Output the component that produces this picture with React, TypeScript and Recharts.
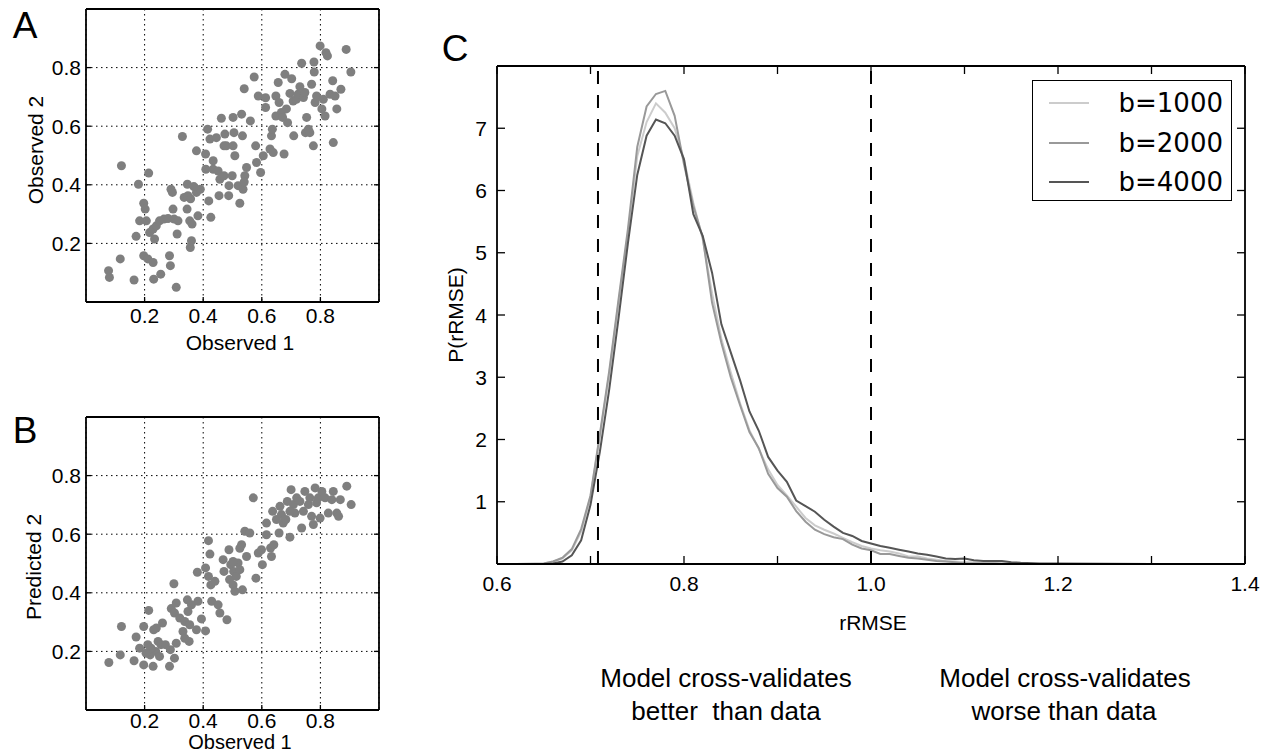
import React from 'react'
import { ScatterChart, Scatter, LineChart, Line, XAxis, YAxis, CartesianGrid, ReferenceLine } from 'recharts'

const SANS = '"Liberation Sans", Arial, Helvetica, sans-serif'
const LEGEND_FONT = '"DejaVu Sans", sans-serif'

// panel A: observed 1 vs observed 2
const OBS1_A = [
  0.077, 0.08, 0.117, 0.121, 0.164, 0.179, 0.171, 0.183, 0.197, 0.202, 0.214, 0.197, 0.211, 0.229, 0.206,
  0.217, 0.229, 0.234, 0.24, 0.251, 0.231, 0.255, 0.266, 0.28, 0.285, 0.288, 0.29, 0.295, 0.297, 0.301,
  0.308, 0.311, 0.314, 0.329, 0.335, 0.345, 0.346, 0.348, 0.354, 0.36, 0.356, 0.362, 0.377, 0.377, 0.382,
  0.39, 0.408, 0.415, 0.419, 0.423, 0.426, 0.409, 0.434, 0.434, 0.451, 0.457, 0.445, 0.471, 0.471, 0.454,
  0.462, 0.474, 0.479, 0.488, 0.499, 0.502, 0.505, 0.508, 0.502, 0.519, 0.525, 0.531, 0.534, 0.536, 0.54,
  0.542, 0.548, 0.561, 0.574, 0.579, 0.582, 0.588, 0.596, 0.605, 0.613, 0.613, 0.628, 0.633, 0.636, 0.639,
  0.648, 0.648, 0.656, 0.659, 0.667, 0.671, 0.676, 0.679, 0.684, 0.688, 0.696, 0.702, 0.707, 0.709, 0.718,
  0.724, 0.736, 0.742, 0.747, 0.749, 0.753, 0.759, 0.764, 0.77, 0.778, 0.779, 0.776, 0.782, 0.787, 0.799,
  0.805, 0.81, 0.816, 0.819, 0.824, 0.833, 0.842, 0.844, 0.85, 0.856, 0.87, 0.888, 0.904, 0.73, 0.54,
  0.368, 0.357, 0.487,
]
const OBS2_A = [
  0.107, 0.084, 0.147, 0.465, 0.075, 0.402, 0.224, 0.277, 0.337, 0.317, 0.44, 0.158, 0.147, 0.135, 0.277,
  0.237, 0.249, 0.215, 0.26, 0.277, 0.078, 0.095, 0.283, 0.285, 0.158, 0.124, 0.385, 0.374, 0.317, 0.283,
  0.05, 0.232, 0.277, 0.565, 0.357, 0.317, 0.402, 0.363, 0.277, 0.209, 0.186, 0.266, 0.374, 0.516, 0.294,
  0.385, 0.505, 0.59, 0.345, 0.556, 0.289, 0.453, 0.482, 0.453, 0.447, 0.419, 0.561, 0.533, 0.431, 0.363,
  0.627, 0.573, 0.533, 0.397, 0.431, 0.63, 0.578, 0.499, 0.533, 0.397, 0.337, 0.641, 0.567, 0.385, 0.728,
  0.431, 0.459, 0.618, 0.768, 0.533, 0.476, 0.703, 0.442, 0.499, 0.697, 0.664, 0.522, 0.567, 0.59, 0.51,
  0.703, 0.635, 0.749, 0.681, 0.647, 0.63, 0.505, 0.777, 0.659, 0.612, 0.712, 0.762, 0.686, 0.567, 0.692,
  0.709, 0.815, 0.698, 0.715, 0.578, 0.63, 0.59, 0.578, 0.743, 0.819, 0.785, 0.533, 0.681, 0.703, 0.874,
  0.659, 0.692, 0.635, 0.851, 0.84, 0.709, 0.755, 0.544, 0.703, 0.659, 0.726, 0.862, 0.785, 0.735, 0.41,
  0.394, 0.352, 0.363,
]

// panel B: observed 1 vs predicted 2
const OBS1_B = [
  0.078, 0.117, 0.121, 0.164, 0.171, 0.183, 0.197, 0.197, 0.214, 0.211, 0.219, 0.229, 0.231, 0.238, 0.246,
  0.251, 0.261, 0.256, 0.24, 0.285, 0.288, 0.291, 0.3, 0.302, 0.302, 0.308, 0.308, 0.32, 0.331, 0.337,
  0.346, 0.348, 0.352, 0.354, 0.36, 0.377, 0.38, 0.382, 0.394, 0.408, 0.418, 0.408, 0.418, 0.423, 0.426,
  0.429, 0.44, 0.451, 0.457, 0.468, 0.471, 0.481, 0.488, 0.49, 0.494, 0.502, 0.504, 0.508, 0.513, 0.519,
  0.525, 0.531, 0.534, 0.542, 0.548, 0.559, 0.571, 0.58, 0.588, 0.599, 0.602, 0.616, 0.616, 0.63, 0.633,
  0.637, 0.641, 0.65, 0.659, 0.662, 0.667, 0.673, 0.682, 0.687, 0.696, 0.7, 0.708, 0.713, 0.719, 0.736,
  0.742, 0.747, 0.759, 0.77, 0.776, 0.782, 0.787, 0.793, 0.799, 0.805, 0.816, 0.827, 0.839, 0.844, 0.856,
  0.862, 0.868, 0.89, 0.905, 0.696, 0.764, 0.73, 0.502, 0.337, 0.271, 0.222, 0.205, 0.525,
]
const PRED2_B = [
  0.162, 0.188, 0.285, 0.168, 0.249, 0.211, 0.285, 0.154, 0.34, 0.223, 0.188, 0.149, 0.274, 0.2, 0.234,
  0.183, 0.297, 0.223, 0.28, 0.149, 0.206, 0.346, 0.431, 0.331, 0.177, 0.228, 0.365, 0.314, 0.268, 0.302,
  0.376, 0.336, 0.234, 0.291, 0.359, 0.274, 0.47, 0.371, 0.311, 0.27, 0.578, 0.485, 0.456, 0.532, 0.427,
  0.371, 0.439, 0.359, 0.331, 0.513, 0.473, 0.308, 0.547, 0.445, 0.496, 0.427, 0.473, 0.405, 0.456, 0.502,
  0.479, 0.564, 0.41, 0.61, 0.524, 0.604, 0.724, 0.45, 0.536, 0.547, 0.496, 0.638, 0.598, 0.553, 0.524,
  0.678, 0.564, 0.65, 0.604, 0.695, 0.667, 0.638, 0.65, 0.712, 0.59, 0.752, 0.701, 0.672, 0.724, 0.621,
  0.678, 0.746, 0.701, 0.661, 0.633, 0.758, 0.707, 0.724, 0.655, 0.746, 0.724, 0.672, 0.718, 0.746, 0.672,
  0.661, 0.718, 0.764, 0.701, 0.678, 0.724, 0.712, 0.507, 0.245, 0.223, 0.211, 0.194, 0.552,
]

// panel C: distribution of rRMSE for three values of b
const RRMSE = [
  0.6, 0.62, 0.64, 0.65, 0.66, 0.67, 0.68, 0.69, 0.7, 0.71,
  0.72, 0.73, 0.74, 0.75, 0.76, 0.77, 0.78, 0.79, 0.8, 0.81,
  0.82, 0.83, 0.84, 0.85, 0.86, 0.87, 0.88, 0.89, 0.9, 0.91,
  0.92, 0.93, 0.94, 0.95, 0.96, 0.97, 0.98, 0.99, 1.0, 1.01,
  1.02, 1.03, 1.04, 1.05, 1.06, 1.07, 1.08, 1.09, 1.1, 1.11,
  1.12, 1.13, 1.14, 1.15, 1.16, 1.18, 1.2, 1.25, 1.3, 1.35,
  1.4,
]
const P_B1000 = [
  0, 0, 0.005, 0.01, 0.04, 0.09, 0.22, 0.52, 1.08, 2.05,
  3.05, 4.2, 5.3, 6.55, 7.1, 7.4, 7.25, 7.0, 6.5, 5.8,
  5.22, 4.35, 3.62, 3.08, 2.58, 2.15, 1.85, 1.52, 1.27, 1.1,
  0.92, 0.74, 0.62, 0.55, 0.49, 0.42, 0.35, 0.29, 0.25, 0.22,
  0.2, 0.17, 0.12, 0.12, 0.09, 0.07, 0.05, 0.04, 0.03, 0.03,
  0.02, 0.02, 0.01, 0.01, 0.01, 0.005, 0, 0, 0, 0,
  0,
]
const P_B2000 = [
  0, 0, 0.005, 0.01, 0.04, 0.1, 0.24, 0.56, 1.1, 2.08,
  3.1, 4.25, 5.38, 6.7, 7.35, 7.55, 7.6, 7.2, 6.42, 5.75,
  5.25, 4.2, 3.55, 3.0, 2.55, 2.12, 1.86, 1.45, 1.22, 1.08,
  0.85, 0.68, 0.55, 0.48, 0.43, 0.4, 0.31, 0.25, 0.22, 0.16,
  0.16, 0.13, 0.1, 0.09, 0.07, 0.05, 0.04, 0.03, 0.01, 0.01,
  0.01, 0.01, 0.005, 0.005, 0, 0, 0, 0, 0, 0,
  0,
]
const P_B4000 = [
  0, 0, 0, 0, 0.01, 0.04, 0.14, 0.38, 0.95, 1.8,
  2.8, 3.95, 5.15, 6.25, 6.88, 7.14, 7.08, 6.88, 6.5, 5.62,
  5.27, 4.68, 3.85, 3.4, 2.95, 2.45, 2.14, 1.72, 1.5, 1.32,
  1.02, 0.93, 0.84, 0.71, 0.6, 0.5, 0.45, 0.37, 0.33, 0.29,
  0.26, 0.23, 0.2, 0.17, 0.15, 0.12, 0.09, 0.08, 0.09, 0.06,
  0.05, 0.05, 0.05, 0.03, 0.02, 0.01, 0.01, 0.005, 0, 0,
  0,
]
const SERIES = [
  { key: 'b1000', name: 'b=1000', values: P_B1000, color: '#cccccc' },
  { key: 'b2000', name: 'b=2000', values: P_B2000, color: '#999999' },
  { key: 'b4000', name: 'b=4000', values: P_B4000, color: '#555555' },
]

const SCATTER_TICKS = [0.2, 0.4, 0.6, 0.8]
const C_XTICKS = [0.6, 0.7, 0.8, 0.9, 1.0, 1.1, 1.2, 1.3, 1.4]
const C_XLABELS = [0.6, 0.8, 1.0, 1.2, 1.4]
const C_YTICKS = [0, 1, 2, 3, 4, 5, 6, 7, 8]
const C_YLABELS = [1, 2, 3, 4, 5, 6, 7]
const CUTOFFS = [0.708, 1.0]

const AXIS = { stroke: '#000', strokeWidth: 1.8 }
const f1 = (v: number) => v.toFixed(1)
const f0 = (v: number) => String(v)

// matplotlib style ticks: drawn inwards, label outside
function makeTick(side: string, len: number, gap: number, labelled: number[] | null, fmt: (v: number) => string) {
  return (p: any) => {
    const x = Number(p.x)
    const y = Number(p.y)
    const v = Number(p.payload?.value)
    const show = labelled !== null && labelled.some((l) => Math.abs(l - v) < 1e-6)
    const tp = { fontSize: 21, fontFamily: SANS, fill: '#000', dominantBaseline: 'central' as const }
    let line = null
    let label = null
    if (side === 'bottom') {
      line = <line x1={x} x2={x} y1={y} y2={y - len} stroke="#000" strokeWidth={1.3} />
      if (show) label = <text x={x} y={y + gap} textAnchor="middle" {...tp}>{fmt(v)}</text>
    } else if (side === 'top') {
      line = <line x1={x} x2={x} y1={y} y2={y + len} stroke="#000" strokeWidth={1.3} />
    } else if (side === 'left') {
      line = <line x1={x} x2={x + len} y1={y} y2={y} stroke="#000" strokeWidth={1.3} />
      if (show) label = <text x={x - gap} y={y} textAnchor="end" {...tp}>{fmt(v)}</text>
    } else {
      line = <line x1={x} x2={x - len} y1={y} y2={y} stroke="#000" strokeWidth={1.3} />
    }
    return (
      <g>
        {line}
        {label}
      </g>
    )
  }
}

function Txt({ cx, cy, size, rotate, family, lh, children }: any) {
  return (
    <div
      style={{
        position: 'absolute',
        left: cx,
        top: cy,
        transform: `translate(-50%, -50%)${rotate ? ` rotate(${rotate}deg)` : ''}`,
        fontSize: size,
        fontFamily: family ?? SANS,
        whiteSpace: 'pre',
        lineHeight: lh ?? 1,
        color: '#000',
      }}
    >
      {children}
    </div>
  )
}

const dot = (p: any) => <circle cx={p.cx} cy={p.cy} r={4.5} fill="#7f7f7f" />

function ScatterPanel({ top, xs, ys, tickGap }: { top: number; xs: number[]; ys: number[]; tickGap: number }) {
  const data = xs.map((x, i) => ({ x, y: ys[i] }))
  return (
    <div style={{ position: 'absolute', left: 0, top }}>
      <ScatterChart width={390} height={360} margin={{ top: 8, right: 10, bottom: 0, left: 0 }}>
        <CartesianGrid stroke="#000" strokeDasharray="1.5 3.5" strokeWidth={1} />
        <XAxis type="number" dataKey="x" domain={[0, 1]} allowDataOverflow ticks={SCATTER_TICKS} interval={0} height={58}
          tickSize={0} tickMargin={0} tickLine={false} axisLine={AXIS} tick={makeTick('bottom', 5, tickGap, SCATTER_TICKS, f1)} />
        <XAxis xAxisId="top" orientation="top" type="number" domain={[0, 1]} allowDataOverflow ticks={SCATTER_TICKS} interval={0} height={1}
          tickSize={0} tickMargin={0} tickLine={false} axisLine={AXIS} tick={makeTick('top', 5, 0, null, f1)} />
        <YAxis type="number" dataKey="y" domain={[0, 1]} allowDataOverflow ticks={SCATTER_TICKS} interval={0} width={86}
          tickSize={0} tickMargin={0} tickLine={false} axisLine={AXIS} tick={makeTick('left', 5, 5, SCATTER_TICKS, f1)} />
        <YAxis yAxisId="right" orientation="right" type="number" domain={[0, 1]} allowDataOverflow ticks={SCATTER_TICKS} interval={0} width={1}
          tickSize={0} tickMargin={0} tickLine={false} axisLine={AXIS} tick={makeTick('right', 5, 0, null, f1)} />
        <Scatter data={data} shape={dot} isAnimationActive={false} />
      </ScatterChart>
    </div>
  )
}

function DistributionPanel() {
  const data = RRMSE.map((x, i) => {
    const row: Record<string, number> = { x }
    SERIES.forEach((s) => (row[s.key] = s.values[i]))
    return row
  })
  return (
    <div style={{ position: 'absolute', left: 380, top: 0 }}>
      <LineChart width={885} height={751} data={data} margin={{ top: 65, right: 19, bottom: 0, left: 0 }}>
        <XAxis type="number" dataKey="x" domain={[0.6, 1.4]} allowDataOverflow ticks={C_XTICKS} interval={0} height={187}
          tickSize={0} tickMargin={0} tickLine={false} axisLine={AXIS} tick={makeTick('bottom', 8, 19, C_XLABELS, f1)} />
        <XAxis xAxisId="top" orientation="top" type="number" dataKey="x" domain={[0.6, 1.4]} allowDataOverflow ticks={C_XTICKS} interval={0} height={1}
          tickSize={0} tickMargin={0} tickLine={false} axisLine={AXIS} tick={makeTick('top', 8, 0, null, f1)} />
        <YAxis type="number" domain={[0, 8]} allowDataOverflow ticks={C_YTICKS} interval={0} width={117}
          tickSize={0} tickMargin={0} tickLine={false} axisLine={AXIS} tick={makeTick('left', 8, 10, C_YLABELS, f0)} />
        <YAxis yAxisId="right" orientation="right" type="number" domain={[0, 8]} allowDataOverflow ticks={C_YTICKS} interval={0} width={1}
          tickSize={0} tickMargin={0} tickLine={false} axisLine={AXIS} tick={makeTick('right', 8, 0, null, f0)} />
        {SERIES.map((s) => (
          <Line key={s.key} type="linear" dataKey={s.key} stroke={s.color} strokeWidth={2} dot={false} isAnimationActive={false} />
        ))}
        {CUTOFFS.map((c) => (
          <ReferenceLine key={c} x={c} stroke="#000" strokeWidth={2} strokeDasharray="13 11" />
        ))}
      </LineChart>
    </div>
  )
}

function LegendBox() {
  return (
    <div style={{ position: 'absolute', left: 1032, top: 80, width: 200, height: 121, border: '1.5px solid #000', boxSizing: 'border-box', background: '#fff' }}>
      {SERIES.map((s, i) => (
        <div key={s.key} style={{ position: 'absolute', left: 0, top: 22 + i * 39.5, width: '100%' }}>
          <div style={{ position: 'absolute', left: 16, top: -1, width: 40, height: 2, background: s.color }} />
          <div style={{ position: 'absolute', right: 8, top: 0, transform: 'translateY(-50%)', fontFamily: LEGEND_FONT, fontSize: 26, lineHeight: 1 }}>
            {s.name}
          </div>
        </div>
      ))}
    </div>
  )
}

export default function App() {
  return (
    <div style={{ position: 'absolute', left: 0, top: 0, width: 1265, height: 751, overflow: 'hidden', background: '#fff' }}>
      <ScatterPanel top={0} xs={OBS1_A} ys={OBS2_A} tickGap={13} />
      <ScatterPanel top={408} xs={OBS1_B} ys={PRED2_B} tickGap={10} />
      <DistributionPanel />
      <LegendBox />

      <Txt cx={25} cy={25} size={37}>A</Txt>
      <Txt cx={25} cy={430} size={37}>B</Txt>
      <Txt cx={455} cy={48} size={37}>C</Txt>

      <Txt cx={240} cy={342} size={21}>Observed 1</Txt>
      <Txt cx={35} cy={150} size={21} rotate={-90}>Observed 2</Txt>
      <Txt cx={240} cy={741.5} size={20} lh={0.9}>Observed 1</Txt>
      <Txt cx={33} cy={567} size={21} rotate={-90}>Predicted 2</Txt>

      <Txt cx={455} cy={315} size={21} rotate={-90}>P(rRMSE)</Txt>
      <Txt cx={873} cy={622} size={21}>rRMSE</Txt>

      <Txt cx={726} cy={678} size={26}>Model cross-validates</Txt>
      <Txt cx={726} cy={711} size={26}>better  than data</Txt>
      <Txt cx={1065} cy={678} size={26}>Model cross-validates</Txt>
      <Txt cx={1064} cy={711} size={26}>worse than data</Txt>
    </div>
  )
}
